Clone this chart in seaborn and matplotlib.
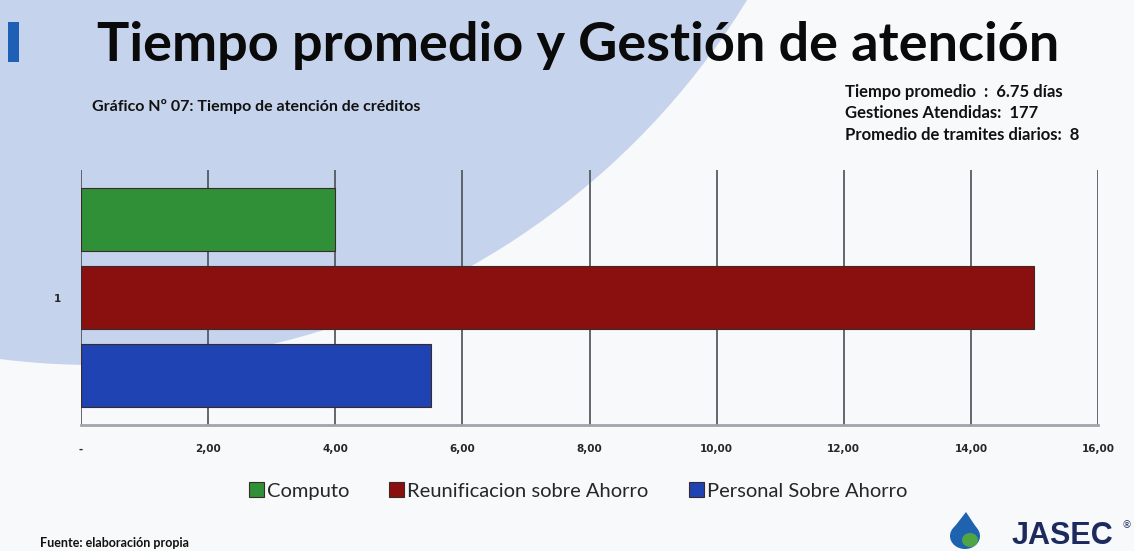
import matplotlib
matplotlib.use("Agg")
import matplotlib.pyplot as plt
import matplotlib.patches as mpatches
import seaborn as sns
import pandas as pd

# ---- data ----
categories = ["1"]
series = ["Computo", "Reunificacion sobre Ahorro", "Personal Sobre Ahorro"]
values = [4.0, 15.0, 5.5]
colors = ["#2f9038", "#8a1010", "#1f43b3"]
xticks = [0, 2, 4, 6, 8, 10, 12, 14, 16]
xticklabels = ["-", "2,00", "4,00", "6,00", "8,00", "10,00", "12,00", "14,00", "16,00"]
title = "Tiempo promedio y Gestión de atención"
subtitle = "Gráfico Nº 07: Tiempo de atención de créditos"
info_lines = ["Tiempo promedio  :  6.75 días", "Gestiones Atendidas:  177", "Promedio de tramites diarios:  8"]

df = pd.DataFrame({"cat": categories * len(series), "serie": series, "valor": values})

sns.set_theme(style="white")
plt.rcParams["font.family"] = ["Lato", "DejaVu Sans"]

W, H = 1134, 551
fig = plt.figure(figsize=(W / 100, H / 100), dpi=100, facecolor="#f8f9fb")

# background decoration
circ = mpatches.Ellipse((95 / W, 1 + 400 / H), 2 * 765 / W, 2 * 765 / H,
                        transform=fig.transFigure, facecolor="#c6d3ec", edgecolor="none", zorder=0)
fig.add_artist(circ)
fig.add_artist(mpatches.Rectangle((8 / W, 1 - 62 / H), 11 / W, 40 / H, transform=fig.transFigure,
                                  facecolor="#1f5fb5", edgecolor="none", zorder=1))

ax = fig.add_axes([81 / W, 1 - 425 / H, (1098 - 81) / W, (425 - 170) / H])
ax.set_facecolor("none")
ax.patch.set_alpha(0)

sns.barplot(data=df, x="valor", y="cat", hue="serie", hue_order=series, palette=colors,
            saturation=1, orient="h", width=0.92, gap=0.19, edgecolor="#3a2a2a", linewidth=0.8,
            legend=True, ax=ax, zorder=3)

ax.set_xlim(0, 16)
ax.set_ylim(0.5, -0.5)
ax.set_xticks(xticks)
ax.set_xticklabels(xticklabels, fontsize=7.5, fontweight="bold", family="DejaVu Sans")
ax.tick_params(axis="x", length=0, pad=14)
ax.tick_params(axis="y", length=0, pad=14)
for lab in ax.get_yticklabels():
    lab.set_fontsize(7.5)
    lab.set_fontweight("bold")
    lab.set_family("DejaVu Sans")
ax.set_xlabel("")
ax.set_ylabel("")
ax.grid(axis="x", color="#4a4f55", linewidth=1.2, zorder=1)
ax.set_axisbelow(True)
for s in ["top", "right", "left"]:
    ax.spines[s].set_visible(False)
ax.spines["bottom"].set_color("#a0a4ab")
ax.spines["bottom"].set_linewidth(2)

leg = ax.legend(loc="center", bbox_to_anchor=(578 / W, 1 - 491 / H), bbox_transform=fig.transFigure,
                ncol=3, frameon=False, fontsize=14.5, handlelength=0.75, handleheight=0.75,
                handletextpad=0.15, columnspacing=2.0)

fig.text(578 / W, 1 - 46 / H, title, ha="center", va="center", fontsize=39, fontweight="bold", color="#0a0a0a")
fig.text(92 / W, 1 - 107 / H, subtitle, ha="left", va="center", fontsize=11.5, fontweight="bold", color="#111111")
for i, line in enumerate(info_lines):
    fig.text(845 / W, 1 - (92 + i * 21.5) / H, line, ha="left", va="center", fontsize=12,
             fontweight="bold", color="#111111")

fig.text(40 / W, 1 - 549 / H, "Fuente: elaboración propia", ha="left", va="bottom", fontsize=9,
         fontweight="bold", color="#111111")

# logo
fig.add_artist(mpatches.Ellipse((965 / W, 1 - 536 / H), 30 / W, 26 / H, transform=fig.transFigure,
                                facecolor="#1f63b0", edgecolor="none"))
fig.add_artist(mpatches.Polygon([(952 / W, 1 - 530 / H), (978 / W, 1 - 530 / H), (966 / W, 1 - 512 / H)],
                                closed=True, transform=fig.transFigure, facecolor="#1f63b0", edgecolor="none"))
fig.add_artist(mpatches.Ellipse((970 / W, 1 - 540 / H), 16 / W, 14 / H, transform=fig.transFigure,
                                facecolor="#4fa545", edgecolor="none"))
fig.text(1062 / W, 1 - 536 / H, "JASEC", ha="center", va="center", fontsize=22, fontweight="bold",
         color="#1c2a5e", family="Liberation Sans")
fig.text(1127 / W, 1 - 526 / H, "®", ha="center", va="center", fontsize=7, color="#1c2a5e")

fig.savefig("out.png", dpi=100, facecolor=fig.get_facecolor())
